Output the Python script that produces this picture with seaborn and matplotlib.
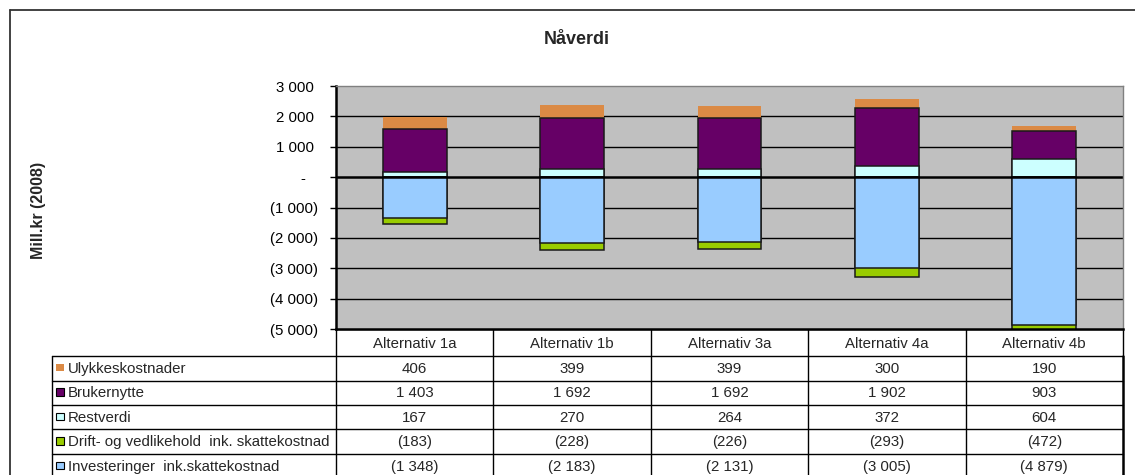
import matplotlib
matplotlib.use("Agg")
import matplotlib.pyplot as plt
from matplotlib.patches import Rectangle
from matplotlib.ticker import FixedLocator, FixedFormatter
import numpy as np
import seaborn as sns

# ---- data (Mill. kr, 2008) ----
alternatives = ["Alternativ 1a", "Alternativ 1b", "Alternativ 3a", "Alternativ 4a", "Alternativ 4b"]
ulykkeskostnader = [406, 399, 399, 300, 190]
brukernytte = [1403, 1692, 1692, 1902, 903]
restverdi = [167, 270, 264, 372, 604]
drift = [-183, -228, -226, -293, -472]
investeringer = [-1348, -2183, -2131, -3005, -4879]

series_names = [
    "Ulykkeskostnader",
    "Brukernytte",
    "Restverdi",
    "Drift- og vedlikehold  ink. skattekostnad",
    "Investeringer  ink.skattekostnad",
]
series_values = [ulykkeskostnader, brukernytte, restverdi, drift, investeringer]
series_colors = ["#DB8A45", "#660066", "#CCFFFF", "#99CC00", "#99CCFF"]

y_ticks = [3000, 2000, 1000, 0, -1000, -2000, -3000, -4000, -5000]

sns.set_style("white")
plt.rcParams["font.family"] = ["Liberation Sans", "DejaVu Sans"]

W, H = 1135, 475
fig = plt.figure(figsize=(W / 100, H / 100), dpi=100)
FS = 10.8


def fmt(v):
    s = f"{abs(v):,}".replace(",", " ")
    if v < 0:
        return f"({s})"
    if v == 0:
        return "-   "
    return s + " "


# ---- chart area ----
px_l, px_r, px_t, px_b = 336, 1123, 86, 329
ax = fig.add_axes([px_l / W, 1 - px_b / H, (px_r - px_l) / W, (px_b - px_t) / H])
ax.set_facecolor("#C0C0C0")

rest = np.array(restverdi)
pos_mid = rest + np.array(brukernytte)
pos_top = pos_mid + np.array(ulykkeskostnader)
neg_inv = np.array(investeringer)
neg_tot = neg_inv + np.array(drift)

bar_kw = dict(width=0.405, saturation=1, errorbar=None, ax=ax, zorder=2)
edge = "#1a1a1a"
# stacked segments, drawn from the outermost total inwards
sns.barplot(x=alternatives, y=pos_top, color=series_colors[0], linewidth=0, **bar_kw)
sns.barplot(x=alternatives, y=pos_mid, color=series_colors[1], edgecolor=edge, linewidth=1.1, **bar_kw)
sns.barplot(x=alternatives, y=rest, color=series_colors[2], edgecolor=edge, linewidth=1.1, **bar_kw)
sns.barplot(x=alternatives, y=neg_tot, color=series_colors[3], edgecolor=edge, linewidth=1.1, **bar_kw)
sns.barplot(x=alternatives, y=neg_inv, color=series_colors[4], edgecolor=edge, linewidth=1.1, **bar_kw)

ax.set_xlim(-0.5, len(alternatives) - 0.5)
ax.set_ylim(-5000, 3000)
ax.yaxis.set_major_locator(FixedLocator(y_ticks))
ax.yaxis.set_major_formatter(FixedFormatter([fmt(v) for v in y_ticks]))
ax.set_xticks([])
ax.set_xlabel("")
ax.set_ylabel("")
for v in y_ticks[1:-1]:
    ax.axhline(v, color="black", lw=1.0 if v != 0 else 1.8, zorder=1 if v != 0 else 2.5)
ax.tick_params(axis="y", which="major", direction="out", length=4.5, width=1,
               color="black", pad=8.5, labelsize=FS, labelcolor="black", left=True)
for side in ("top", "right"):
    ax.spines[side].set_color("#808080")
    ax.spines[side].set_linewidth(1)
for side in ("left", "bottom"):
    ax.spines[side].set_color("black")
    ax.spines[side].set_linewidth(1.8)

# ---- overlay in pixel coordinates: frame, title, axis label, data table ----
ov = fig.add_axes([0, 0, 1, 1], zorder=-1)
ov.set_xlim(0, W)
ov.set_ylim(H, 0)
ov.axis("off")
ov.patch.set_alpha(0)

ov.plot([10, W], [10, 10], color="#333333", lw=1.3)
ov.plot([10, 10], [10, H], color="#333333", lw=1.3)

ov.text(577, 40, "Nåverdi", ha="center", va="center", fontsize=13, fontweight="bold")
ov.text(38, 210, "Mill.kr (2008)", ha="center", va="center", rotation=90,
        fontsize=11.5, fontweight="bold")

col_w = (px_r - px_l) / len(alternatives)
col_edges = [px_l + i * col_w for i in range(len(alternatives) + 1)]
row_edges = [356, 380.6, 405, 429.4, 454, 478.5]
tbl_left = 52
lc = dict(color="black", lw=1)

# header row
ov.plot([px_l, px_r], [px_b, px_b], **lc)
for x in col_edges:
    ov.plot([x, x], [px_b, row_edges[0]], **lc)
for i, name in enumerate(alternatives):
    ov.text(col_edges[i] + col_w / 2, (px_b + row_edges[0]) / 2 + 1, name,
            ha="center", va="center", fontsize=FS)

# body rows
for y in row_edges:
    ov.plot([tbl_left, px_r], [y, y], **lc)
for x in [tbl_left] + col_edges[:-1]:
    ov.plot([x, x], [row_edges[0], row_edges[-1]], **lc)
ov.plot([px_r, px_r], [row_edges[0], row_edges[-1]], color="black", lw=1.8)

for r, (name, vals, col) in enumerate(zip(series_names, series_values, series_colors)):
    yc = (row_edges[r] + row_edges[r + 1]) / 2
    ov.add_patch(Rectangle((56, yc - 4.5), 7.5, 7.5, facecolor=col,
                           edgecolor="none" if r == 0 else "black", lw=0.8))
    ov.text(68, yc + 0.5, name, ha="left", va="center", fontsize=FS)
    for i, v in enumerate(vals):
        ov.text(col_edges[i] + col_w / 2, yc + 0.5, fmt(v).strip(),
                ha="center", va="center", fontsize=FS)

fig.savefig("out.png", dpi=100)
